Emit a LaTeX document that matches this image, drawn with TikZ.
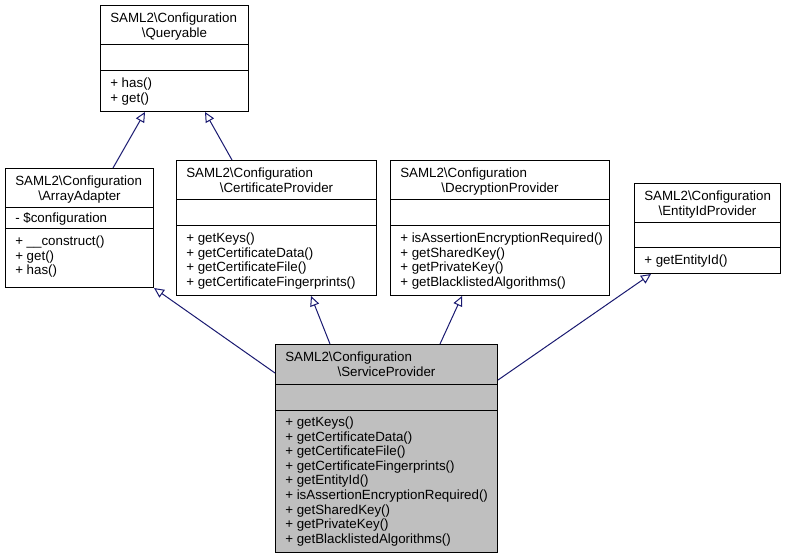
\documentclass[tikz,border=0pt]{standalone}
\usepackage{fontspec}
\setmainfont{Liberation Sans}
\usetikzlibrary{arrows.meta,calc}
\definecolor{edgeblue}{HTML}{191970}
\definecolor{spgray}{HTML}{BFBFBF}
\newcommand\bs{\textbackslash}
\begin{document}
\begin{tikzpicture}[x=0.75pt,y=-0.75pt,
  box/.style={draw=black, line width=0.75pt, fill=white, anchor=north west, inner sep=0pt},
  sepline/.style={draw=black, line width=0.75pt},
  txt/.style={inner sep=0pt, font=\fontsize{10}{12}\selectfont},
  inherit/.style={draw=edgeblue, line width=0.75pt, -{Triangle[open,length=7.5pt,width=7pt,fill=white]}}]
\useasboundingbox (0,0) rectangle (787,559);

% ---- Queryable
\node[box, minimum width=148*0.75pt, minimum height=106*0.75pt] (q) at (100,5) {};
\draw[sepline] ($(q.north west)+(0,40)$) -- ($(q.north east)+(0,40)$);
\draw[sepline] ($(q.north west)+(0,66)$) -- ($(q.north east)+(0,66)$);
\node[txt, anchor=base west] (q-t1) at ($(q.north west)+(10,17.5)$) {SAML2\bs Configuration};
\node[txt, anchor=base] (q-t2) at ($(q.north)+(0,32.1)$) {\bs Queryable};
\foreach \t [count=\i from 0] in {+ has(), + get()}
  \node[txt, anchor=base west] (q-m\i) at ($(q.north west)+(10,{82.5+\i*14.6})$) {\t};

% ---- ArrayAdapter
\node[box, minimum width=148*0.75pt, minimum height=119*0.75pt] (aa) at (5,168) {};
\draw[sepline] ($(aa.north west)+(0,40)$) -- ($(aa.north east)+(0,40)$);
\draw[sepline] ($(aa.north west)+(0,61)$) -- ($(aa.north east)+(0,61)$);
\node[txt, anchor=base west] (aa-t1) at ($(aa.north west)+(10,17.5)$) {SAML2\bs Configuration};
\node[txt, anchor=base] (aa-t2) at ($(aa.north)+(0,32.1)$) {\bs ArrayAdapter};
\node[txt, anchor=base west] (aa-a0) at ($(aa.north west)+(10,55)$) {- \$configuration};
\foreach \t [count=\i from 0] in {+ \_\_construct(), + get(), + has()}
  \node[txt, anchor=base west] (aa-m\i) at ($(aa.north west)+(10,{77.5+\i*14.6})$) {\t};

% ---- CertificateProvider
\node[box, minimum width=200*0.75pt, minimum height=135*0.75pt] (cp) at (176,160) {};
\draw[sepline] ($(cp.north west)+(0,40)$) -- ($(cp.north east)+(0,40)$);
\draw[sepline] ($(cp.north west)+(0,66)$) -- ($(cp.north east)+(0,66)$);
\node[txt, anchor=base west] (cp-t1) at ($(cp.north west)+(10,17.5)$) {SAML2\bs Configuration};
\node[txt, anchor=base] (cp-t2) at ($(cp.north)+(0,32.1)$) {\bs CertificateProvider};
\foreach \t [count=\i from 0] in {+ getKeys(), + getCertificateData(), + getCertificateFile(), + getCertificateFingerprints()}
  \node[txt, anchor=base west] (cp-m\i) at ($(cp.north west)+(10,{82.5+\i*14.6})$) {\t};

% ---- DecryptionProvider
\node[box, minimum width=219*0.75pt, minimum height=135*0.75pt] (dp) at (390,160) {};
\draw[sepline] ($(dp.north west)+(0,40)$) -- ($(dp.north east)+(0,40)$);
\draw[sepline] ($(dp.north west)+(0,66)$) -- ($(dp.north east)+(0,66)$);
\node[txt, anchor=base west] (dp-t1) at ($(dp.north west)+(10,17.5)$) {SAML2\bs Configuration};
\node[txt, anchor=base] (dp-t2) at ($(dp.north)+(0,32.1)$) {\bs DecryptionProvider};
\foreach \t [count=\i from 0] in {+ isAssertionEncryptionRequired(), + getSharedKey(), + getPrivateKey(), + getBlacklistedAlgorithms()}
  \node[txt, anchor=base west] (dp-m\i) at ($(dp.north west)+(10,{82.5+\i*14.6})$) {\t};

% ---- EntityIdProvider
\node[box, minimum width=146*0.75pt, minimum height=90*0.75pt] (ep) at (634,183) {};
\draw[sepline] ($(ep.north west)+(0,40)$) -- ($(ep.north east)+(0,40)$);
\draw[sepline] ($(ep.north west)+(0,65)$) -- ($(ep.north east)+(0,65)$);
\node[txt, anchor=base west] (ep-t1) at ($(ep.north west)+(10,17.5)$) {SAML2\bs Configuration};
\node[txt, anchor=base] (ep-t2) at ($(ep.north)+(0,32.1)$) {\bs EntityIdProvider};
\node[txt, anchor=base west] (ep-m0) at ($(ep.north west)+(10,81.5)$) {+ getEntityId()};

% ---- ServiceProvider
\node[box, fill=spgray, minimum width=222*0.75pt, minimum height=208*0.75pt] (sp) at (275,344) {};
\draw[sepline] ($(sp.north west)+(0,40)$) -- ($(sp.north east)+(0,40)$);
\draw[sepline] ($(sp.north west)+(0,66)$) -- ($(sp.north east)+(0,66)$);
\node[txt, anchor=base west] (sp-t1) at ($(sp.north west)+(10,17.5)$) {SAML2\bs Configuration};
\node[txt, anchor=base] (sp-t2) at ($(sp.north)+(0,32.1)$) {\bs ServiceProvider};
\foreach \t [count=\i from 0] in {+ getKeys(), + getCertificateData(), + getCertificateFile(), + getCertificateFingerprints(), + getEntityId(), + isAssertionEncryptionRequired(), + getSharedKey(), + getPrivateKey(), + getBlacklistedAlgorithms()}
  \node[txt, anchor=base west] (sp-m\i) at ($(sp.north west)+(10,{82.5+\i*14.6})$) {\t};

% ---- inheritance connectors
\draw[inherit] ($(aa.north west)+(108,0)$) -- ($(q.south west)+(45,0)$);
\draw[inherit] ($(cp.north west)+(56,0)$) -- ($(q.south west)+(105,0)$);
\draw[inherit] ($(sp.north west)+(0,29)$) -- (aa.south east);
\draw[inherit] ($(sp.north west)+(55,0)$) -- ($(cp.south west)+(135,0)$);
\draw[inherit] ($(sp.north west)+(165,0)$) -- ($(dp.south west)+(72,0)$);
\draw[inherit] ($(sp.north east)+(0,36)$) -- ($(ep.south west)+(17,0)$);
\end{tikzpicture}
\end{document}
